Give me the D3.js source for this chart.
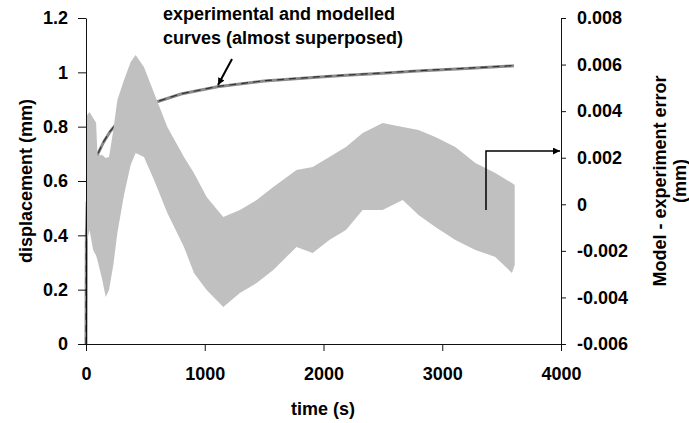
<!DOCTYPE html>
<html><head><meta charset="utf-8">
<script src="https://cdn.jsdelivr.net/npm/d3@7"></script>
<style>
body{margin:0;background:#fff}
text{font-family:"Liberation Sans",Arial,sans-serif;font-weight:bold;fill:#000}
</style>
</head><body>
<svg id="c" width="689" height="423"></svg>
<script>
// ---- data ----
const timeCurve = [0, 3, 10, 25, 50, 100, 150, 200, 264, 350, 450, 573, 800, 1106, 1500, 2000, 2229, 2500, 2790, 3200, 3604];
const expDisp   = [0, 0.40, 0.52, 0.56, 0.60, 0.70, 0.745, 0.78, 0.815, 0.845, 0.868, 0.888, 0.920, 0.947, 0.968, 0.984, 0.990, 0.997, 1.005, 1.014, 1.024];
const modDisp   = [0, 0.40, 0.52, 0.56, 0.60, 0.701, 0.746, 0.781, 0.816, 0.846, 0.869, 0.889, 0.921, 0.948, 0.969, 0.985, 0.991, 0.998, 1.006, 1.015, 1.025];

const errTime  = [0, 10, 30, 60, 85, 97, 137, 166, 194, 230, 264, 320, 376, 418, 488, 573, 685, 825, 909, 1016, 1156, 1296, 1437, 1577, 1773, 1909, 2049, 2189, 2330, 2498, 2667, 2800, 2942, 3110, 3279, 3447, 3587, 3610];
const errUpper = [0.00405, 0.00383, 0.00396, 0.00371, 0.0035, 0.0021, 0.00212, 0.00199, 0.00203, 0.00319, 0.00448, 0.00534, 0.00611, 0.00641, 0.0059, 0.00478, 0.00332, 0.00203, 0.00134, 0.00031, -0.00055, -0.00025, 0.00018, 0.00074, 0.00147, 0.0016, 0.00203, 0.00246, 0.00306, 0.00349, 0.00332, 0.00319, 0.00289, 0.00246, 0.00177, 0.00134, 0.00091, 0.00083];
const errLower = [-0.00411, -0.00153, -0.0011, -0.00196, -0.0022, -0.0024, -0.00325, -0.00398, -0.00368, -0.00261, -0.00123, 0.0004, 0.00169, 0.0022, 0.00203, 0.00104, -0.00037, -0.00183, -0.00295, -0.00368, -0.00441, -0.00381, -0.00338, -0.00282, -0.00183, -0.00209, -0.00153, -0.0011, -0.00025, -0.00025, 0.00018, -0.00046, -0.00098, -0.00153, -0.00196, -0.00226, -0.00295, -0.00261];

const xTicks = [0, 1000, 2000, 3000, 4000];
const xLabels = ["0", "1000", "2000", "3000", "4000"];
const yLeftTicks = [0, 0.2, 0.4, 0.6, 0.8, 1, 1.2];
const yLeftLabels = ["0", "0.2", "0.4", "0.6", "0.8", "1", "1.2"];
const yRightTicks = [-0.006, -0.004, -0.002, 0, 0.002, 0.004, 0.006, 0.008];
const yRightLabels = ["-0.006", "-0.004", "-0.002", "0", "0.002", "0.004", "0.006", "0.008"];

// ---- layout ----
const L = 86, R = 561, T = 18, B = 344;
const svg = d3.select("#c");
svg.append("rect").attr("width", 689).attr("height", 423).attr("fill", "#fff");

const x = d3.scaleLinear().domain([0, 4000]).range([L, R]);
const yL = d3.scaleLinear().domain([0, 1.2]).range([B, T]);
const yR = d3.scaleLinear().domain([-0.006, 0.008]).range([B, T]);

const defs = svg.append("defs");
defs.append("marker").attr("id", "ah").attr("viewBox", "0 0 10 10")
  .attr("refX", 10).attr("refY", 5).attr("markerWidth", 9).attr("markerHeight", 7)
  .attr("markerUnits", "userSpaceOnUse").attr("orient", "auto")
  .append("path").attr("d", "M0,0L10,5L0,10Z").attr("fill", "#000");

// displacement curves
const lineExp = d3.line().x((d, i) => x(timeCurve[i])).y(d => yL(d));
svg.append("path").attr("d", lineExp(expDisp)).attr("fill", "none")
  .attr("stroke", "#8a8a8a").attr("stroke-width", 3);
svg.append("path").attr("d", lineExp(modDisp)).attr("fill", "none")
  .attr("stroke", "#333").attr("stroke-width", 1.2).attr("stroke-dasharray", "7,5");

// error band
const area = d3.area()
  .x((d, i) => x(errTime[i]))
  .y0((d, i) => yR(errLower[i]))
  .y1((d, i) => yR(errUpper[i]));
svg.append("path").attr("d", area(errTime)).attr("fill", "#c0c0c0");

// axes
function styleAxis(g) {
  g.selectAll("path,line").attr("stroke", "#111").attr("stroke-width", 1);
  g.selectAll("text").attr("font-size", 18).attr("font-weight", "bold")
    .attr("font-family", '"Liberation Sans", Arial, sans-serif').attr("fill", "#000");
}
const gx = svg.append("g").attr("transform", `translate(0,${B})`)
  .call(d3.axisBottom(x).tickValues(xTicks).tickFormat((d, i) => xLabels[i])
    .tickSize(7).tickSizeOuter(0).tickPadding(16));
styleAxis(gx);

const gl = svg.append("g").attr("transform", `translate(${L},0)`)
  .call(d3.axisLeft(yL).tickValues(yLeftTicks).tickFormat((d, i) => yLeftLabels[i])
    .tickSize(8).tickSizeOuter(0).tickPadding(10));
styleAxis(gl);

const gr = svg.append("g").attr("transform", `translate(${R},0)`)
  .call(d3.axisRight(yR).tickValues(yRightTicks).tickFormat((d, i) => yRightLabels[i])
    .tickSize(5).tickSizeOuter(0).tickPadding(11));
styleAxis(gr);

// axis titles
svg.append("text").attr("x", 323).attr("y", 415).attr("text-anchor", "middle")
  .attr("font-size", 18).text("time (s)");
svg.append("text").attr("transform", "translate(32,181) rotate(-90)")
  .attr("text-anchor", "middle").attr("font-size", 18).text("displacement (mm)");
svg.append("text").attr("transform", "translate(666,181) rotate(-90)")
  .attr("text-anchor", "middle").attr("font-size", 18).text("Model - experiment error");
svg.append("text").attr("transform", "translate(686,181) rotate(-90)")
  .attr("text-anchor", "middle").attr("font-size", 18).text("(mm)");

// annotations
svg.append("text").attr("x", 163).attr("y", 20).attr("font-size", 18).text("experimental and modelled");
svg.append("text").attr("x", 163).attr("y", 44).attr("font-size", 18).text("curves (almost superposed)");
svg.append("line").attr("x1", 232).attr("y1", 59).attr("x2", 218).attr("y2", 85)
  .attr("stroke", "#000").attr("stroke-width", 2).attr("marker-end", "url(#ah)");
svg.append("path").attr("d", "M486,210L486,151L560,151").attr("fill", "none")
  .attr("stroke", "#000").attr("stroke-width", 1.5).attr("marker-end", "url(#ah)");
</script>
</body></html>
